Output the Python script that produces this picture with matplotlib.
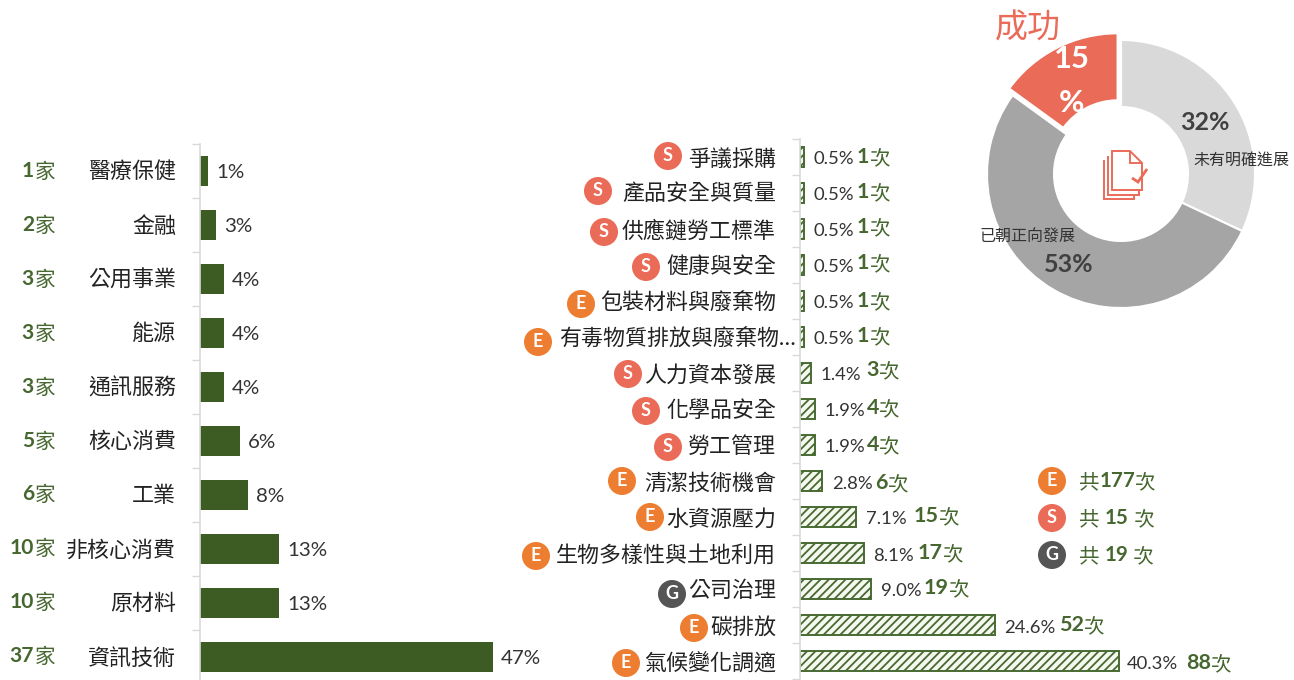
import matplotlib
matplotlib.use("Agg")
import matplotlib.pyplot as plt
from matplotlib.patches import Circle, Polygon

plt.rcParams['font.family'] = ['Lato', 'Noto Sans CJK TC', 'DejaVu Sans']
plt.rcParams['hatch.linewidth'] = 1.3

GREEN = '#3c5c24'
TEXTGREEN = '#46672f'
RED = '#ea6b58'
ORANGE = '#ed7d31'
DARK = '#555555'
PX = 0.72  # pt per pixel at dpi 100

# left chart: sectors
sectors = ['醫療保健', '金融', '公用事業', '能源', '通訊服務', '核心消費', '工業', '非核心消費', '原材料', '資訊技術']
sector_counts = [1, 2, 3, 3, 3, 5, 6, 10, 10, 37]
sector_pcts = ['1%', '3%', '4%', '4%', '4%', '6%', '8%', '13%', '13%', '47%']

# middle chart: topics
topics = ['爭議採購', '產品安全與質量', '供應鏈勞工標準', '健康與安全', '包裝材料與廢棄物',
          '有毒物質排放與廢棄物…', '人力資本發展', '化學品安全', '勞工管理', '清潔技術機會',
          '水資源壓力', '生物多樣性與土地利用', '公司治理', '碳排放', '氣候變化調適']
topic_pcts = [0.5, 0.5, 0.5, 0.5, 0.5, 0.5, 1.4, 1.9, 1.9, 2.8, 7.1, 8.1, 9.0, 24.6, 40.3]
topic_counts = [1, 1, 1, 1, 1, 1, 3, 4, 4, 6, 15, 17, 19, 52, 88]
topic_types = ['S', 'S', 'S', 'S', 'E', 'E', 'S', 'S', 'S', 'E', 'E', 'E', 'G', 'E', 'E']

# donut
donut_labels = ['未有明確進展', '已朝正向發展', '成功']
donut_values = [32, 53, 15]

# legend
legend_types = ['E', 'S', 'G']
legend_texts = [('共', '177', '次'), ('共 ', '15', ' 次'), ('共 ', '19', ' 次')]

# hand placed layout, the original labels are not aligned
pct_x = [813, 813, 813, 813, 813, 813, 821, 825, 825, 832, 866, 873, 881, 1004, 1127]
pct_y = [158, 194, 230, 266, 302, 338, 374, 410, 446, 483, 518, 555, 590, 627, 663]
count_x = [857, 857, 857, 857, 857, 857, 866, 867, 867, 875, 914, 918, 924, 1059, 1186]
count_y = [157, 192, 227, 263, 301, 336, 370, 408, 445, 483, 516, 553, 588, 625, 663]
badge_x = [668, 598, 604, 646, 581, 538, 628, 646, 668, 622, 650, 536, 672, 694, 626]
badge_y = [156, 191, 232, 267, 304, 342, 374, 411, 447, 481, 517, 556, 594, 628, 663]
sector_y = [171, 225, 279, 333, 387, 441, 495, 549, 603, 657]
sector_count_y = [170, 224, 278, 332, 386, 440, 493, 547, 601, 655]
label_y = [158, 193, 230, 266, 302, 338, 374, 410, 446, 482, 518, 554, 590, 626, 663]

W, H = 1294, 680
fig = plt.figure(figsize=(W / 100, H / 100), dpi=100)


def px_axes(x0, y0, x1, y1):
    return fig.add_axes([x0 / W, 1 - y1 / H, (x1 - x0) / W, (y1 - y0) / H])


def bar_axes(x0, xscale, y_top, row_h, rows):
    # one row is row_h pixels, the picture cuts the axis off at the bottom edge
    ax = px_axes(x0, y_top, 1290, H)
    for s in ['top', 'right', 'bottom']:
        ax.spines[s].set_visible(False)
    ax.spines['left'].set_color('#d9d9d9')
    ax.spines['left'].set_linewidth(1.2)
    ax.set_xticks([])
    ax.set_yticks([i - 0.5 for i in range(rows + 1)])
    ax.set_yticklabels([])
    ax.tick_params(axis='y', color='#d9d9d9', length=6, width=1)
    ax.patch.set_alpha(0)
    # limits last, set_yticks widens them
    ax.set_xlim(0, (1290 - x0) / xscale)
    ax.set_ylim((H - y_top) / row_h - 0.5, -0.5)
    return ax


ax1 = bar_axes(200, 7.92, 144, 54, len(sectors))
ax1.barh(range(len(sectors)), sector_counts, height=0.54, color=GREEN)

ax2 = bar_axes(800, 7.92, 139, 36, len(topics))
ax2.barh(range(len(topics)), topic_pcts, height=0.54, facecolor='#f4f8ee', edgecolor='#486a32',
         hatch='////', linewidth=1.4)

# donut
ax3 = px_axes(971, 24, 1271, 324)
ax3.pie(donut_values, colors=['#d9d9d9', '#a5a5a5', RED], startangle=90, counterclock=False,
        explode=[0, 0, 0.056], radius=1, wedgeprops=dict(width=0.5, edgecolor='white', linewidth=1.5))
ax3.set_xlim(-150 / 134, 150 / 134)
ax3.set_ylim(-150 / 134, 150 / 134)

# overlay in pixels for labels, badges and the icon
ov = fig.add_axes([0, 0, 1, 1], zorder=5)
ov.set_xlim(0, W)
ov.set_ylim(H, 0)
ov.axis('off')
renderer = fig.canvas.get_renderer()


def put(x, y, s, size, color='#222222', ha='left', weight='normal', **kw):
    return ov.text(x, y, s, fontsize=size * PX, color=color, ha=ha, va='center', fontweight=weight, **kw)


def runs(x, y, parts, size, digit_size):
    # normal / bold / normal in a row
    for i, p in enumerate(parts):
        if p == '':
            continue
        t = put(x, y + (0 if i == 1 else 1), p, digit_size if i == 1 else size, TEXTGREEN,
                weight='bold' if i == 1 else 'normal')
        x += t.get_window_extent(renderer).width


def badge(x, y, kind, r=14):
    col = {'E': ORANGE, 'S': RED, 'G': DARK}[kind]
    ov.add_patch(Circle((x, y), r, facecolor=col, edgecolor='none'))
    put(x, y - 0.5, kind, 18, 'white', ha='center', weight='bold')


for i, name in enumerate(sectors):
    put(176, sector_y[i] + 1, name, 22, ha='right', weight='medium')
    put(55, sector_count_y[i] + 1, '家', 20.5, TEXTGREEN, ha='right')
    put(34, sector_count_y[i] + 1, str(sector_counts[i]), 21, TEXTGREEN, ha='right', weight='bold')
    put(200 + sector_counts[i] * 7.92 + 8, sector_y[i] + 2, sector_pcts[i], 20.5, '#333333')

for i, name in enumerate(topics):
    if name.endswith('…'):
        put(796, label_y[i] + 1, name, 22, ha='right', weight='medium')
    else:
        put(776, label_y[i] + 1, name, 22, ha='right', weight='medium')
    badge(badge_x[i], badge_y[i], topic_types[i])
    put(pct_x[i], pct_y[i] + 1, f'{topic_pcts[i]:.1f}%', 18.5, '#333333')
    runs(count_x[i], count_y[i], ('', str(topic_counts[i]), '次'), 20.5, 21.5)

for i, kind in enumerate(legend_types):
    y = 481 + i * 37
    badge(1052, y, kind)
    runs(1079, y, legend_texts[i], 20.5, 20.5)

# donut texts
put(1028, 28, donut_labels[2], 33, RED, ha='center', weight='medium')
put(1072, 59, '15', 31, 'white', ha='center', weight='bold')
put(1072, 103, '%', 31, 'white', ha='center', weight='bold')
put(1205, 122, f'{donut_values[0]}%', 25, '#404040', ha='center', weight='bold')
put(1069, 264, f'{donut_values[1]}%', 25, '#404040', ha='center', weight='bold')
put(1241, 161, donut_labels[0], 16, '#333333', ha='center')
put(1027, 236, donut_labels[1], 16, '#333333', ha='center')

# document icon
icon = dict(fill=False, edgecolor=RED, linewidth=1.4)
ov.add_patch(Polygon([(1104, 160), (1104, 199), (1134, 199), (1134, 195)], closed=False, **icon))
ov.add_patch(Polygon([(1108, 156), (1108, 195), (1139, 195), (1139, 190)], closed=False, **icon))
ov.add_patch(Polygon([(1112, 151), (1130, 151), (1142, 163), (1142, 190), (1112, 190)], **icon))
ov.add_patch(Polygon([(1130, 151), (1130, 163), (1142, 163)], closed=False, **icon))
ov.add_patch(Polygon([(1132, 178), (1138, 182), (1147, 169)], closed=False, fill=False, edgecolor=RED, linewidth=2))

fig.savefig('out.png', dpi=100)
